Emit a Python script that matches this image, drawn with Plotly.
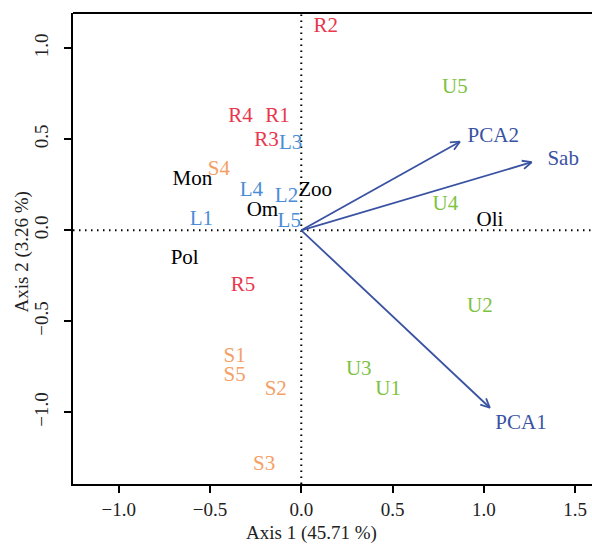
import numpy as np
import plotly.graph_objects as go

# ---- data ----
R_labels = ["R1", "R2", "R3", "R4", "R5"]
R_x = [-0.130, 0.134, -0.191, -0.333, -0.319]
R_y = [0.624, 1.117, 0.492, 0.624, -0.304]

S_labels = ["S1", "S2", "S3", "S4", "S5"]
S_x = [-0.365, -0.140, -0.204, -0.452, -0.365]
S_y = [-0.694, -0.877, -1.290, 0.331, -0.799]

L_labels = ["L1", "L2", "L3", "L4", "L5"]
L_x = [-0.547, -0.081, -0.058, -0.273, -0.066]
L_y = [0.057, 0.185, 0.477, 0.218, 0.046]

U_labels = ["U1", "U2", "U3", "U4", "U5"]
U_x = [0.476, 0.979, 0.315, 0.790, 0.842]
U_y = [-0.874, -0.420, -0.768, 0.139, 0.782]

var_labels = ["Oli", "Zoo", "Om", "Mon", "Pol"]
var_x = [1.034, 0.076, -0.213, -0.597, -0.639]
var_y = [0.053, 0.216, 0.108, 0.276, -0.154]

arrow_labels = ["PCA1", "PCA2", "Sab"]
arrow_x = [1.033, 0.869, 1.262]
arrow_y = [-0.975, 0.487, 0.374]
arrow_lab_x = [1.204, 1.052, 1.435]
arrow_lab_y = [-1.061, 0.514, 0.386]

x_ticks = [-1.0, -0.5, 0.0, 0.5, 1.0, 1.5]
y_ticks = [-1.0, -0.5, 0.0, 0.5, 1.0]
x_title = "Axis 1 (45.71 %)"
y_title = "Axis 2 (3.26 %)"

# ---- style ----
FONT = "Liberation Serif"
col_R = "#E8374E"
col_S = "#F4A066"
col_L = "#4A8CD6"
col_U = "#7DC242"
col_arrow = "#3A52A2"

fig = go.Figure()

# reference lines (dotted) at 0
fig.add_shape(type="line", xref="x", yref="paper", x0=0, x1=0, y0=0, y1=1,
              line=dict(color="black", width=2, dash="1.5px,4.5px"), layer="below")
fig.add_shape(type="line", xref="paper", yref="y", x0=0, x1=1, y0=0, y1=0,
              line=dict(color="black", width=2, dash="1.5px,4.5px"), layer="below")

# arrows
head_len = 0.055
phi = np.deg2rad(25)
for ax_, ay_ in zip(arrow_x, arrow_y):
    a = np.arctan2(ay_, ax_)
    hx1 = ax_ - head_len * np.cos(a - phi)
    hy1 = ay_ - head_len * np.sin(a - phi)
    hx2 = ax_ - head_len * np.cos(a + phi)
    hy2 = ay_ - head_len * np.sin(a + phi)
    fig.add_trace(go.Scatter(
        x=[0, ax_, None, hx1, ax_, hx2], y=[0, ay_, None, hy1, ay_, hy2],
        mode="lines", line=dict(color=col_arrow, width=1.8), hoverinfo="skip",
        showlegend=False))

def add_labels(labels, xs, ys, color):
    fig.add_trace(go.Scatter(x=xs, y=ys, text=labels, mode="text",
                             textposition="middle center",
                             textfont=dict(family=FONT, size=21, color=color),
                             hoverinfo="text", showlegend=False))

add_labels(R_labels, R_x, R_y, col_R)
add_labels(S_labels, S_x, S_y, col_S)
add_labels(L_labels, L_x, L_y, col_L)
add_labels(U_labels, U_x, U_y, col_U)
add_labels(var_labels, var_x, var_y, "black")
add_labels(arrow_labels, arrow_lab_x, arrow_lab_y, col_arrow)

# top border
fig.add_shape(type="line", xref="paper", yref="paper", x0=0, x1=1, y0=1, y1=1,
              line=dict(color="black", width=2))

# axis titles
fig.add_annotation(text=x_title, xref="paper", yref="paper", x=0.4605, y=0,
                   yshift=-49, xanchor="center", yanchor="middle", showarrow=False,
                   font=dict(family=FONT, size=19, color="#222"))
fig.add_annotation(text=y_title, xref="paper", yref="paper", x=0, y=0.4915,
                   xshift=-51, xanchor="center", yanchor="middle", showarrow=False,
                   textangle=-90, font=dict(family=FONT, size=19, color="#222"))

fig.update_layout(
    width=592, height=544,
    margin=dict(l=73, r=0, t=13, b=60),
    plot_bgcolor="white", paper_bgcolor="white",
    font=dict(family=FONT, size=19, color="#222"),
    xaxis=dict(range=[-1.251, 1.593], tickvals=x_ticks, automargin=False,
               ticktext=[f"{v:.1f}".replace("-", "\u2212") for v in x_ticks],
               showgrid=False, zeroline=False, showline=True, linecolor="black",
               linewidth=2, ticks="outside", ticklen=7, tickwidth=1.5,
               tickcolor="black",
               tickfont=dict(family=FONT, size=19, color="#222")),
    yaxis=dict(range=[-1.394, 1.194], tickvals=y_ticks, automargin=False,
               ticktext=[f"{v:.1f}".replace("-", "\u2212") for v in y_ticks],
               showgrid=False, zeroline=False, showline=True, linecolor="black",
               linewidth=2, ticks="outside", ticklen=7, tickwidth=1.5,
               tickcolor="black", tickangle=-90, ticklabelstandoff=8,
               tickfont=dict(family=FONT, size=19, color="#222")),
)

fig.write_html("out.html", config={"displayModeBar": False},
               post_script="document.body.style.margin='0';document.body.style.overflow='hidden';")
